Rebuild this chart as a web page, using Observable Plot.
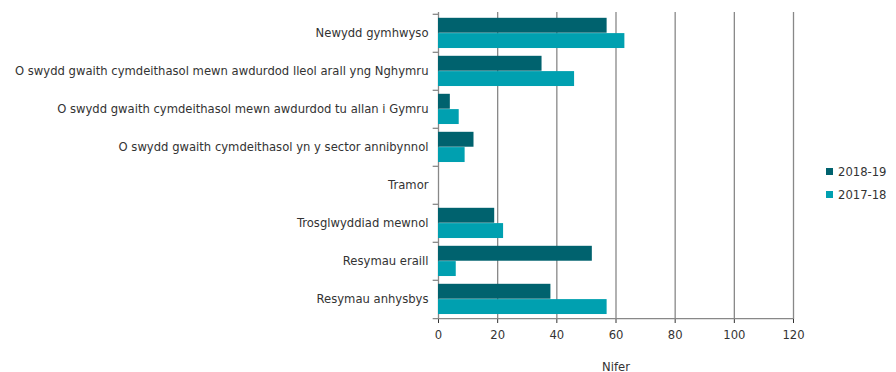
<!DOCTYPE html>
<html>
<head>
<meta charset="utf-8">
<script src="https://cdn.jsdelivr.net/npm/d3@7"></script>
<script src="https://cdn.jsdelivr.net/npm/@observablehq/plot@0.6"></script>
<style>
  html, body { margin: 0; padding: 0; background: #fff; }
  #wrap { position: relative; width: 896px; height: 372px; font-family: "DejaVu Sans", Verdana, sans-serif; }
  #legend { position: absolute; left: 826px; top: 160px; font-size: 11.6px; color: #333; }
  #legend .item { display: flex; align-items: center; height: 23px; }
  #legend .sw { width: 7px; height: 7px; margin-right: 5px; }
</style>
</head>
<body>
<div id="wrap"><div id="legend"></div></div>
<script>
const categories = [
  "Newydd gymhwyso",
  "O swydd gwaith cymdeithasol mewn awdurdod lleol arall yng Nghymru",
  "O swydd gwaith cymdeithasol mewn awdurdod tu allan i Gymru",
  "O swydd gwaith cymdeithasol yn y sector annibynnol",
  "Tramor",
  "Trosglwyddiad mewnol",
  "Resymau eraill",
  "Resymau anhysbys"
];
const seriesNames = ["2018-19", "2017-18"];
const values2018 = [57, 35, 4, 12, 0, 19, 52, 38];
const values2017 = [63, 46, 7, 9, 0, 22, 6, 57];
const xTicks = [0, 20, 40, 60, 80, 100, 120];
const seriesColors = ["#00626e", "#00a0b0"];

const W = 896, H = 372, mt = 12, mb = 53;
const step = (H - mt - mb) / categories.length;
const half = step / 2;

const rows2018 = categories.map((c, i) => ({category: c, value: values2018[i]}));
const rows2017 = categories.map((c, i) => ({category: c, value: values2017[i]}));

const chart = Plot.plot({
  width: W,
  height: H,
  marginLeft: 438,
  marginRight: 103,
  marginTop: mt,
  marginBottom: mb,
  style: {fontFamily: "'DejaVu Sans', Verdana, sans-serif", fontSize: "11.6px", color: "#333", background: "#fff"},
  x: {domain: [0, 120], ticks: xTicks, label: null, tickSize: 4, tickPadding: 7},
  y: {domain: categories, padding: 0, label: null, tickSize: 0, tickPadding: 10},
  marks: [
    Plot.ruleX(xTicks, {stroke: "#888", strokeWidth: 1.3}),
    Plot.barX(rows2018, {y: "category", x: "value", fill: seriesColors[0], insetTop: 3.8, insetBottom: step - 3.8 - 15.3}),
    Plot.barX(rows2017, {y: "category", x: "value", fill: seriesColors[1], insetTop: 19.1, insetBottom: step - 19.1 - 15.3}),
    Plot.ruleY(categories, {y: d => d, x1: -1.8, x2: 0, dy: -half, stroke: "#888", strokeWidth: 1.3}),
    Plot.ruleY([categories[categories.length - 1]], {y: d => d, x1: -1.8, x2: 120, dy: half, stroke: "#888", strokeWidth: 1.3}),
    Plot.text(["Nifer"], {x: 60, frameAnchor: "bottom", dy: 51, text: d => d, fill: "#333"})
  ]
});
document.getElementById("wrap").prepend(chart);

const legend = document.getElementById("legend");
seriesNames.forEach((name, i) => {
  const item = document.createElement("div");
  item.className = "item";
  const sw = document.createElement("span");
  sw.className = "sw";
  sw.style.background = seriesColors[i];
  const t = document.createElement("span");
  t.textContent = name;
  item.append(sw, t);
  legend.append(item);
});
</script>
</body>
</html>
